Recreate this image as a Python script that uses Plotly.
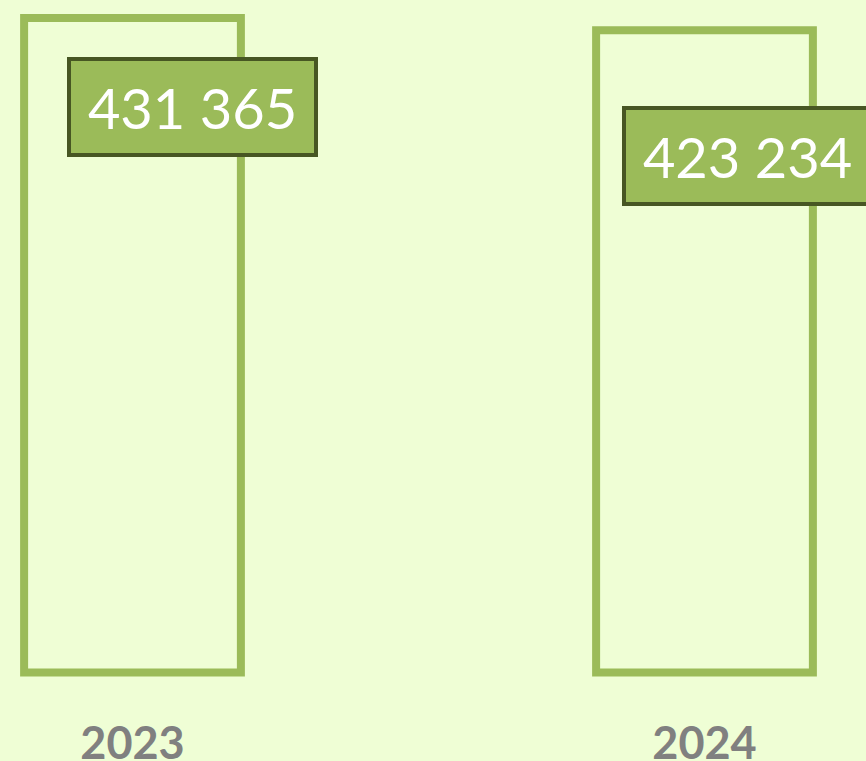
import plotly.graph_objects as go

categories = ["2023", "2024"]
values = [431365, 423234]
value_labels = ["431 365", "423 234"]
label_xshift = [60, 43]
label_yshift = [-89, -126]

BG = "#EFFED5"
GREEN = "#9BBB59"
DARK = "#475623"

fig = go.Figure()
fig.add_trace(go.Bar(
    x=categories, y=values,
    width=0.379,
    marker=dict(color=BG, line=dict(color=GREEN, width=8)),
    hoverinfo="skip",
))

for i, (v, t, xs, ys) in enumerate(zip(values, value_labels, label_xshift, label_yshift)):
    fig.add_annotation(
        x=i, y=v, xref="x", yref="y",
        text=t, showarrow=False,
        xshift=xs, yshift=ys,
        xanchor="center", yanchor="middle",
        font=dict(family="Lato", size=56, color="white"),
        bgcolor=GREEN, bordercolor=DARK, borderwidth=4, borderpad=0,
        width=243, height=92,
    )

ymax = values[0] + 18 * values[0] / 654.5
ymin = -7.5 * values[0] / 654.5

fig.update_layout(
    width=866, height=761,
    margin=dict(l=0, r=0, t=0, b=81),
    paper_bgcolor=BG, plot_bgcolor=BG,
    showlegend=False,
    xaxis=dict(
        type="category",
        range=[-132.5 / 572, (866 - 132.5) / 572],
        showgrid=False, zeroline=False, showline=False, ticks="",
        tickfont=dict(family="Lato", size=45, color="#808080", weight="bold"),
        ticklabelstandoff=33,
        automargin=False,
    ),
    yaxis=dict(range=[ymin, ymax], visible=False, showgrid=False, zeroline=False,
               automargin=False),
)

fig.write_html(
    "out.html",
    config={"displayModeBar": False},
    post_script="document.body.style.margin='0';document.body.style.background='" + BG + "';",
)
